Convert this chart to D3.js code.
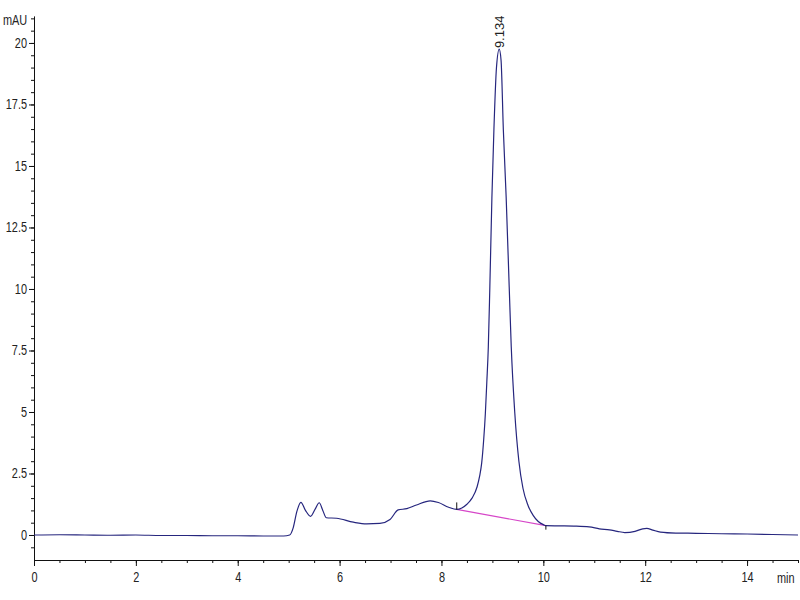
<!DOCTYPE html>
<html lang="en">
<head>
<meta charset="utf-8">
<title>Chromatogram</title>
<style>
  body { margin: 0; background: #fff; }
  svg { display: block; }
  .axis text { font: 14px "Liberation Sans", Arial, sans-serif; fill: #222; }
  .axis path, .axis line { stroke: #111; }
  .unit { font: 14px "Liberation Sans", Arial, sans-serif; fill: #222; }
  .peaklabel { font: 13px "Liberation Sans", Arial, sans-serif; fill: #222; }
</style>
</head>
<body>
<svg width="800" height="600"></svg>
<script src="https://d3js.org/d3.v7.min.js"></script>
<script>
  // retention time (min)
  const times = [
    0, 0.5, 1.0, 1.5, 2.0, 2.5, 3.0, 3.5, 4.0, 4.5, 4.9,
    5.02, 5.09, 5.16, 5.24, 5.33, 5.43, 5.52, 5.60, 5.67, 5.74,
    5.94, 6.27, 6.53, 6.79, 6.99, 7.15, 7.32, 7.51, 7.78, 7.94, 8.14,
    8.30, 8.40, 8.50, 8.60, 8.70, 8.75, 8.79, 8.83, 8.862, 8.89, 8.92, 8.95, 8.99, 9.03, 9.08, 9.134,
    9.17, 9.215, 9.27, 9.33, 9.37, 9.44, 9.52, 9.60, 9.70, 9.80, 9.90, 10.0, 10.05,
    10.3, 10.6, 10.9, 11.1, 11.3, 11.45, 11.6, 11.8, 11.95, 12.03, 12.15, 12.3,
    12.6, 13.0, 13.5, 14.0, 14.5, 15.0
  ];
  // absorbance (mAU)
  const mau = [
    0.00, 0.01, 0.00, -0.01, 0.00, -0.02, -0.02, -0.03, -0.03, -0.04, -0.04,
    0.00, 0.30, 0.95, 1.33, 1.00, 0.76, 1.05, 1.31, 1.00, 0.70,
    0.68, 0.52, 0.45, 0.47, 0.63, 1.02, 1.07, 1.22, 1.39, 1.32, 1.13,
    1.04, 1.10, 1.25, 1.50, 1.96, 2.40, 2.93, 3.90, 4.95, 6.20, 7.65, 10.10, 13.70, 16.50, 19.00, 19.75,
    19.30, 16.46, 13.74, 10.08, 7.65, 4.95, 3.00, 1.90, 1.20, 0.80, 0.55, 0.42, 0.38,
    0.37, 0.36, 0.33, 0.25, 0.21, 0.15, 0.10, 0.15, 0.25, 0.27, 0.20, 0.12,
    0.08, 0.07, 0.05, 0.04, 0.02, 0.00
  ];

  // integration baseline of the main peak
  const baseStart = [8.30, 1.04];
  const baseEnd = [10.05, 0.38];
  const peakTime = 9.134;
  const peakHeight = 19.75;
  const peakName = "9.134";

  const xMajor = [0, 2, 4, 6, 8, 10, 12, 14];
  const yMajor = [0, 2.5, 5, 7.5, 10, 12.5, 15, 17.5, 20];

  const svg = d3.select("svg");

  const x = d3.scaleLinear().domain([0, 15]).range([34, 798]);
  const y = d3.scaleLinear().domain([-1, 21.1]).range([559.6, 15.9]);

  // minor ticks every 0.5
  const xMinor = d3.range(0, 15.01, 0.5);
  const yMinor = d3.range(-0.5, 21.01, 0.5);

  // the labels in the original use a narrow face; squeeze a regular one
  const squeeze = "scale(0.78,1)";

  svg.append("g")
    .attr("class", "axis")
    .attr("transform", "translate(0,560)")
    .call(d3.axisBottom(x).tickValues(xMinor).tickSize(3).tickFormat(""))
    .call(g => g.select(".domain").remove());
  svg.append("g")
    .attr("class", "axis")
    .attr("transform", "translate(0,560)")
    .call(d3.axisBottom(x).tickValues(xMajor).tickSize(6).tickSizeOuter(0).tickPadding(6)
      .tickFormat(d3.format("d")))
    .call(g => g.selectAll(".tick text").attr("transform", squeeze));

  svg.append("g")
    .attr("class", "axis")
    .attr("transform", "translate(34,0)")
    .call(d3.axisLeft(y).tickValues(yMinor).tickSize(3).tickFormat(""))
    .call(g => g.select(".domain").remove());
  svg.append("g")
    .attr("class", "axis")
    .attr("transform", "translate(34,0)")
    .call(d3.axisLeft(y).tickValues(yMajor).tickSize(5).tickSizeOuter(0).tickPadding(4)
      .tickFormat(d => d3.format("~g")(d)))
    .call(g => g.selectAll(".tick text").attr("transform", squeeze));

  svg.append("text").attr("class", "unit")
    .attr("transform", "translate(3,25) " + squeeze).text("mAU");
  svg.append("text").attr("class", "unit")
    .attr("transform", "translate(777,583) " + squeeze).text("min");

  const pts = times.map((t, i) => [t, mau[i]]);

  // baseline
  svg.append("line")
    .attr("x1", x(baseStart[0])).attr("y1", y(baseStart[1]))
    .attr("x2", x(baseEnd[0])).attr("y2", y(baseEnd[1]))
    .attr("stroke", "#d646c8").attr("stroke-width", 1.2);

  svg.append("path")
    .datum(pts)
    .attr("fill", "none")
    .attr("stroke", "#26267e")
    .attr("stroke-width", 1.2)
    .attr("d", d3.line().x(d => x(d[0])).y(d => y(d[1])).curve(d3.curveMonotoneX));

  // integration markers
  svg.append("line")
    .attr("x1", x(baseStart[0])).attr("x2", x(baseStart[0]))
    .attr("y1", y(baseStart[1])).attr("y2", y(baseStart[1]) - 7)
    .attr("stroke", "#111");
  svg.append("line")
    .attr("x1", x(baseEnd[0])).attr("x2", x(baseEnd[0]))
    .attr("y1", y(baseEnd[1])).attr("y2", y(baseEnd[1]) + 4)
    .attr("stroke", "#111");

  svg.append("text")
    .attr("class", "peaklabel")
    .attr("transform", `translate(${x(peakTime)},${y(peakHeight) - 1}) rotate(-90)`)
    .attr("dy", "0.35em")
    .text(peakName);
</script>
</body>
</html>
